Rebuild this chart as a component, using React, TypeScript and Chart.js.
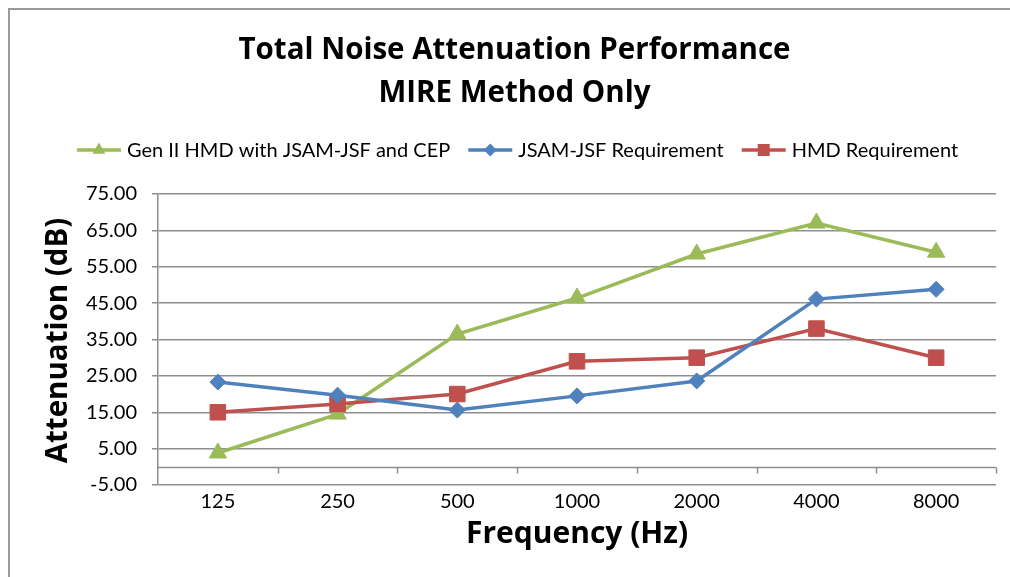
import { useEffect, useRef } from 'react';
import { Chart, registerables } from 'chart.js';

Chart.register(...registerables);

const categories = ['125', '250', '500', '1000', '2000', '4000', '8000'];
const genIIValues = [3.8, 14.5, 36.5, 46.4, 58.5, 67.0, 59.0];
const jsamValues = [23.3, 19.7, 15.6, 19.5, 23.6, 46.1, 48.8];
const hmdValues = [15.0, 17.3, 20.0, 29.0, 30.0, 38.0, 30.0];
const seriesNames = ['Gen II HMD with JSAM-JSF and CEP', 'JSAM-JSF Requirement', 'HMD Requirement'];
const yMin = -5;
const yMax = 75;
const yStep = 10;
const titleLines = ['Total Noise Attenuation Performance', 'MIRE Method Only'];
const yTitle = 'Attenuation (dB)';
const xTitle = 'Frequency (Hz)';

const GREEN = '#9BBB59';
const BLUE = '#4F81BD';
const RED = '#C0504D';
const GRID = '#8e8e8e';
const FONT = 'Lato';
const TITLE_FONT = '"Open Sans"';

function drawMarker(ctx: CanvasRenderingContext2D, style: string, x: number, y: number, r: number, color: string) {
  ctx.fillStyle = color;
  ctx.beginPath();
  if (style === 'triangle') {
    ctx.moveTo(x, y - r);
    ctx.lineTo(x + r * 0.866, y + r * 0.5);
    ctx.lineTo(x - r * 0.866, y + r * 0.5);
  } else if (style === 'rectRot') {
    ctx.moveTo(x - r, y);
    ctx.lineTo(x, y - r);
    ctx.lineTo(x + r, y);
    ctx.lineTo(x, y + r);
  } else {
    ctx.rect(x - r, y - r, 2 * r, 2 * r);
  }
  ctx.closePath();
  ctx.fill();
}

const frameAndZeroPlugin = {
  id: 'frameAndZero',
  beforeDraw(chart: any) {
    const { ctx, width, height } = chart;
    ctx.save();
    ctx.fillStyle = '#ffffff';
    ctx.fillRect(0, 0, width, height);
    ctx.strokeStyle = '#9a9a9a';
    ctx.lineWidth = 2;
    ctx.beginPath();
    ctx.moveTo(1, height);
    ctx.lineTo(1, 1);
    ctx.lineTo(width, 1);
    ctx.stroke();
    ctx.restore();
  },
  beforeDatasetsDraw(chart: any) {
    const { ctx, chartArea, scales } = chart;
    const y0 = Math.round(scales.y.getPixelForValue(0)) + 0.5;
    ctx.save();
    ctx.strokeStyle = GRID;
    ctx.lineWidth = 1.5;
    ctx.beginPath();
    ctx.moveTo(chartArea.left, y0);
    ctx.lineTo(chartArea.right, y0);
    const n = categories.length;
    const step = scales.x.getPixelForValue(1) - scales.x.getPixelForValue(0);
    for (let i = 0; i < n; i++) {
      const bx = Math.round(scales.x.getPixelForValue(i) + step / 2) + 0.5;
      ctx.moveTo(bx, y0);
      ctx.lineTo(bx, y0 + 6);
    }
    ctx.stroke();
    ctx.restore();
  },
};

const textPlugin = {
  id: 'texts',
  afterDraw(chart: any) {
    const { ctx, chartArea } = chart;
    const sets = chart.data.datasets;
    ctx.save();
    ctx.fillStyle = '#000000';
    ctx.textBaseline = 'middle';
    ctx.textAlign = 'center';

    // main title
    ctx.font = `bold 29.5px ${TITLE_FONT}`;
    ctx.fillText(titleLines[0], 506.5, 43);
    ctx.fillText(titleLines[1], 506.5, 86);

    // x title
    ctx.font = `bold 30px ${TITLE_FONT}`;
    ctx.fillText(xTitle, (chartArea.left + chartArea.right) / 2, 526);

    // y title
    ctx.save();
    ctx.translate(51, (chartArea.top + chartArea.bottom) / 2 + 1);
    ctx.rotate(-Math.PI / 2);
    ctx.font = `bold 29.5px ${TITLE_FONT}`;
    ctx.fillText(yTitle, 0, 0);
    ctx.restore();

    // legend
    ctx.font = `20px ${FONT}`;
    ctx.textAlign = 'left';
    const lineLen = 44;
    const textGap = 6;
    const itemGap = 18;
    const widths = seriesNames.map((n) => ctx.measureText(n).width);
    const total = widths.reduce((a, b) => a + b, 0) + seriesNames.length * (lineLen + textGap) + (seriesNames.length - 1) * itemGap;
    let x = 509.5 - total / 2;
    const y = 142;
    const legendR: Record<string, number> = { triangle: 7.5, rectRot: 6.5, rect: 6 };
    sets.forEach((ds: any, i: number) => {
      ctx.strokeStyle = ds.borderColor;
      ctx.lineWidth = 3.5;
      ctx.beginPath();
      ctx.moveTo(x, y);
      ctx.lineTo(x + lineLen, y);
      ctx.stroke();
      drawMarker(ctx, ds.pointStyle, x + lineLen / 2, y, legendR[ds.pointStyle], ds.borderColor);
      ctx.fillStyle = '#000000';
      ctx.fillText(ds.label, x + lineLen + textGap, y + 1);
      x += lineLen + textGap + widths[i] + itemGap;
    });
    ctx.restore();
  },
};

export default function App() {
  const ref = useRef<HTMLCanvasElement>(null);
  useEffect(() => {
    const canvas = ref.current!;
    const chart = new Chart(canvas, {
      type: 'line',
      data: {
        labels: categories,
        datasets: [
          {
            label: seriesNames[0],
            data: genIIValues,
            borderColor: GREEN,
            backgroundColor: GREEN,
            pointStyle: 'triangle',
            pointRadius: 10,
            pointBorderWidth: 1,
            borderWidth: 3.5,
            tension: 0,
            order: 3,
          },
          {
            label: seriesNames[1],
            data: jsamValues,
            borderColor: BLUE,
            backgroundColor: BLUE,
            pointStyle: 'rectRot',
            pointRadius: 8,
            pointBorderWidth: 1,
            borderWidth: 3.5,
            tension: 0,
            order: 1,
          },
          {
            label: seriesNames[2],
            data: hmdValues,
            borderColor: RED,
            backgroundColor: RED,
            pointStyle: 'rect',
            pointRadius: 11,
            pointBorderWidth: 1,
            borderWidth: 3.5,
            tension: 0,
            order: 2,
          },
        ],
      },
      options: {
        responsive: false,
        animation: false,
        devicePixelRatio: 1,
        layout: { padding: { left: 0, right: 14, top: 186, bottom: 0 } },
        plugins: {
          legend: { display: false },
          tooltip: { enabled: false },
          title: { display: false },
        },
        scales: {
          x: {
            type: 'category',
            offset: true,
            grid: { display: false, drawTicks: false },
            border: { display: false },
            ticks: { color: '#000000', font: { family: FONT, size: 20 }, padding: 5 },
            afterFit(scale: any) {
              scale.height = 92;
            },
          },
          y: {
            min: yMin,
            max: yMax,
            ticks: {
              stepSize: yStep,
              color: '#000000',
              font: { family: FONT, size: 20 },
              padding: 15,
              callback: (v: any) => Number(v).toFixed(2),
            },
            grid: { color: GRID, lineWidth: 1.5, drawTicks: true, tickLength: 6, tickColor: GRID },
            border: { display: true, color: GRID, width: 1.5 },
            afterFit(scale: any) {
              scale.width = 150;
            },
          },
        },
      },
      plugins: [frameAndZeroPlugin, textPlugin],
    } as any);
    return () => chart.destroy();
  }, []);
  return (
    <div style={{ position: 'fixed', left: 8, top: 8, width: 1002, height: 569 }}>
      <canvas ref={ref} width={1002} height={569} style={{ display: 'block' }} />
    </div>
  );
}
